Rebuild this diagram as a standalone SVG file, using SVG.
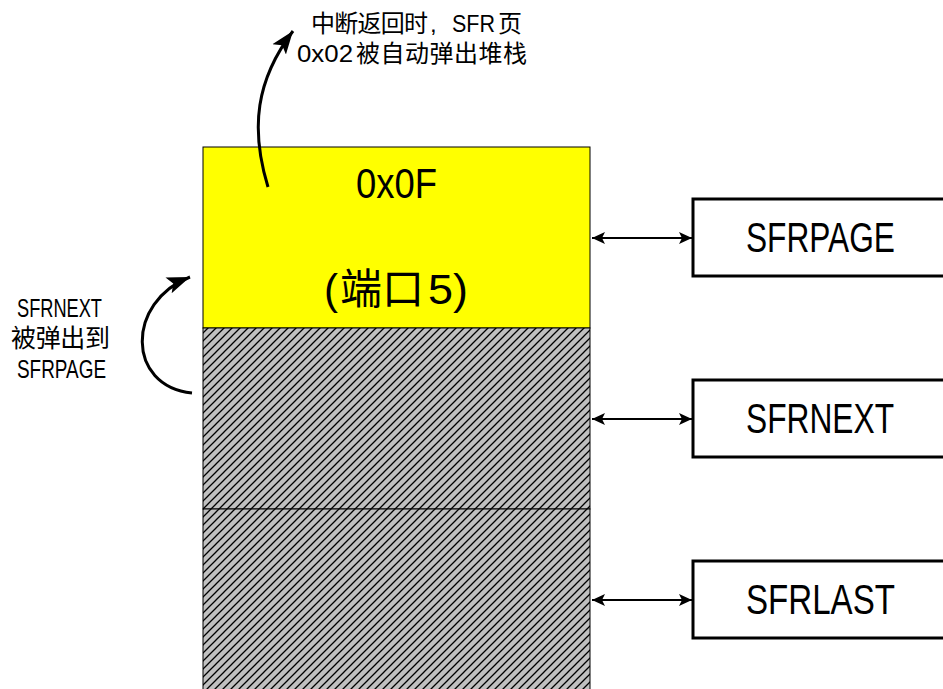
<svg xmlns="http://www.w3.org/2000/svg" width="943" height="689" viewBox="0 0 943 689">
  <style>
    text { font-family: "Liberation Sans", "Noto Sans CJK SC", sans-serif; fill: #000; }
    .cell { stroke: #000; stroke-width: 1; }
    .reg { fill: #fff; stroke: #000; stroke-width: 3; }
    .lbl { font-size: 42px; }
    .note { font-size: 24px; }
    .side { font-size: 25px; }
    .link { fill: none; stroke: #000; stroke-width: 2.2; marker-start: url(#head); marker-end: url(#head); }
    .curve { fill: none; stroke: #000; stroke-width: 3; marker-end: url(#bighead); }
  </style>
  <defs>
    <pattern id="hatch" patternUnits="userSpaceOnUse" width="8" height="8">
      <rect width="8" height="8" fill="#c0c0c0"/>
      <path d="M-1,1 L1,-1 M0,8 L8,0 M7,9 L9,7" stroke="#000" stroke-width="1.3"/>
    </pattern>
    <marker id="head" markerUnits="userSpaceOnUse" markerWidth="16" markerHeight="14" refX="13" refY="7" orient="auto-start-reverse">
      <path d="M0,1 L13,7 L0,13 L3,7 Z" fill="#000"/>
    </marker>
    <marker id="bighead" markerUnits="userSpaceOnUse" markerWidth="26" markerHeight="20" refX="23" refY="10" orient="auto">
      <path d="M0,1.5 L23,10 L0,18.5 L5,10 Z" fill="#000"/>
    </marker>
  </defs>

  <g id="cell-sfrpage">
    <rect class="cell" x="203" y="147" width="387" height="181" fill="#ffff00"/>
    <text class="lbl" y="198"><tspan x="356" textLength="81" lengthAdjust="spacingAndGlyphs">0x0F</tspan></text>
    <text class="lbl" y="304"><tspan x="324" textLength="14" lengthAdjust="spacingAndGlyphs">(</tspan><tspan x="340">端口</tspan><tspan x="428" textLength="40" lengthAdjust="spacingAndGlyphs">5)</tspan></text>
  </g>
  <g id="cell-sfrnext">
    <rect class="cell" x="203" y="328" width="387" height="181" fill="url(#hatch)"/>
  </g>
  <g id="cell-sfrlast">
    <rect class="cell" x="203" y="509" width="387" height="190" fill="url(#hatch)"/>
  </g>

  <g id="reg-sfrpage">
    <rect class="reg" x="693" y="199" width="270" height="77"/>
    <text class="lbl" y="252"><tspan x="746" textLength="149" lengthAdjust="spacingAndGlyphs">SFRPAGE</tspan></text>
  </g>
  <g id="reg-sfrnext">
    <rect class="reg" x="693" y="380" width="270" height="77"/>
    <text class="lbl" y="433"><tspan x="746" textLength="148" lengthAdjust="spacingAndGlyphs">SFRNEXT</tspan></text>
  </g>
  <g id="reg-sfrlast">
    <rect class="reg" x="693" y="561" width="270" height="77"/>
    <text class="lbl" y="614"><tspan x="746" textLength="149" lengthAdjust="spacingAndGlyphs">SFRLAST</tspan></text>
  </g>

  <g id="note-top">
    <text class="note" y="32"><tspan x="311" textLength="117" lengthAdjust="spacing">中断返回时</tspan><tspan x="430">, </tspan><tspan x="452" textLength="43" lengthAdjust="spacingAndGlyphs">SFR</tspan><tspan x="498">页</tspan></text>
    <text class="note" y="62"><tspan x="297" textLength="56" lengthAdjust="spacingAndGlyphs">0x02</tspan><tspan x="356" textLength="171" lengthAdjust="spacing">被自动弹出堆栈</tspan></text>
  </g>
  <g id="note-left">
    <text class="side" y="317"><tspan x="17" textLength="85" lengthAdjust="spacingAndGlyphs">SFRNEXT</tspan></text>
    <text class="side" y="347"><tspan x="11" textLength="99" lengthAdjust="spacing">被弹出到</tspan></text>
    <text class="side" y="378"><tspan x="17" textLength="89" lengthAdjust="spacingAndGlyphs">SFRPAGE</tspan></text>
  </g>

  <g id="connectors">
    <line class="link" x1="592" y1="238" x2="692" y2="238"/>
    <line class="link" x1="592" y1="419" x2="692" y2="419"/>
    <line class="link" x1="592" y1="600" x2="692" y2="600"/>
    <path class="curve" d="M268,187 C250,128 256,80 293,31"/>
    <path class="curve" d="M192,393 C126,386 126,302 190,277"/>
  </g>
</svg>
